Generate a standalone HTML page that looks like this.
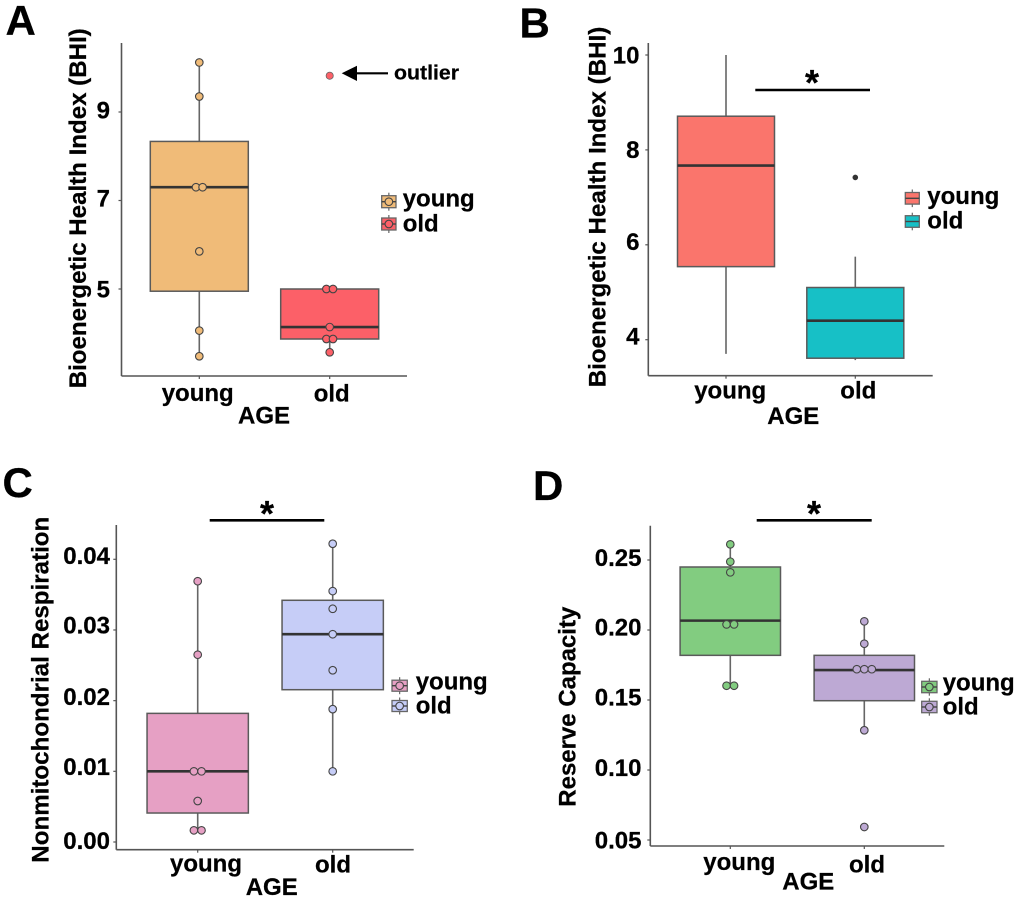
<!DOCTYPE html>
<html lang="en">
<head>
<meta charset="utf-8">
<title>Bioenergetic health boxplots</title>
<style>
html,body{margin:0;padding:0;background:#fff;}
svg{display:block;font-family:"Liberation Sans",Arial,sans-serif;font-weight:bold;filter:blur(0.35px);}
text{fill:#000;stroke:#000;stroke-width:0.25px;}
.panel-letter{font-size:42px;}
.big{font-size:24px;}
.star{font-size:36px;}
</style>
</head>
<body>
<svg id="figure" xmlns="http://www.w3.org/2000/svg" width="1020" height="901" viewBox="0 0 1020 901">
  <rect x="0" y="0" width="1020" height="901" fill="#fff"/>

  <g id="panel-a">
    <text class="panel-letter" x="5.5" y="35">A</text>
    <text class="big" transform="translate(86,388.3) rotate(-90)" textLength="360" lengthAdjust="spacingAndGlyphs">Bioenergetic Health Index (BHI)</text>
    <text class="big" x="264" y="423.3" text-anchor="middle">AGE</text>
    <line x1="388" y1="73.3" x2="355" y2="73.3" stroke="#000" stroke-width="2.2"/>
    <polygon points="341.7,73.3 357,65.7 357,81" fill="#000"/>
    <text x="394" y="79.3" font-size="20.5" textLength="65" lengthAdjust="spacingAndGlyphs">outlier</text>
  </g>

  <g id="panel-b">
    <text class="panel-letter" x="519.5" y="37.3">B</text>
    <text class="big" transform="translate(605.3,387.3) rotate(-90)" textLength="360.6" lengthAdjust="spacingAndGlyphs">Bioenergetic Health Index (BHI)</text>
    <text class="big" x="793.3" y="424" text-anchor="middle">AGE</text>
    <line x1="755.3" y1="90" x2="870" y2="90" stroke="#000" stroke-width="2.6"/>
    <text class="star" x="812" y="95" text-anchor="middle">*</text>
  </g>

  <g id="panel-c">
    <text class="panel-letter" x="2.5" y="497">C</text>
    <text class="big" transform="translate(48.7,862.7) rotate(-90)" textLength="346" lengthAdjust="spacingAndGlyphs">Nonmitochondrial Respiration</text>
    <text class="big" x="271.7" y="895" text-anchor="middle">AGE</text>
    <line x1="209.7" y1="520.3" x2="324.3" y2="520.3" stroke="#000" stroke-width="2.6"/>
    <text class="star" x="267" y="526" text-anchor="middle">*</text>
  </g>

  <g id="panel-d">
    <text class="panel-letter" x="533" y="500">D</text>
    <text class="big" transform="translate(575.7,806.7) rotate(-90)" textLength="200" lengthAdjust="spacingAndGlyphs">Reserve Capacity</text>
    <text class="big" x="808.3" y="889.3" text-anchor="middle">AGE</text>
    <line x1="756.7" y1="520.3" x2="871.7" y2="520.3" stroke="#000" stroke-width="2.6"/>
    <text class="star" x="814" y="526" text-anchor="middle">*</text>
  </g>
</svg>

<script>
const categories = ['young', 'old'];

/* Panel A data */
const panelATicks = [5, 7, 9];
const panelATickLabels = ['5', '7', '9'];
const panelAYoungBox = [4.95, 7.30, 8.335];
const panelAOldBox = [3.87, 4.14, 5.0];
const panelAYoungWhiskers = [3.48, 10.12];
const panelAOldWhiskers = [3.57, 5.0];
const panelAYoungPoints = [10.12, 9.35, 7.3, 7.3, 5.85, 4.06, 3.48];
const panelAOldPoints = [5.0, 5.0, 4.14, 3.87, 3.87, 3.57];
const panelAOldOutliers = [9.82];

/* Panel B data */
const panelBTicks = [4, 6, 8, 10];
const panelBTickLabels = ['4', '6', '8', '10'];
const panelBYoungBox = [5.54, 7.67, 8.71];
const panelBOldBox = [3.61, 4.40, 5.10];
const panelBYoungWhiskers = [3.70, 10.0];
const panelBOldWhiskers = [3.57, 5.75];
const panelBOldOutliers = [7.42];

/* Panel C data */
const panelCTicks = [0, 0.01, 0.02, 0.03, 0.04];
const panelCTickLabels = ['0.00', '0.01', '0.02', '0.03', '0.04'];
const panelCYoungBox = [0.0041, 0.01, 0.0182];
const panelCOldBox = [0.02155, 0.0294, 0.0342];
const panelCYoungWhiskers = [0.00165, 0.0369];
const panelCOldWhiskers = [0.01, 0.0422];
const panelCYoungPoints = [0.0369, 0.0265, 0.01, 0.01, 0.0058, 0.00165, 0.00165];
const panelCOldPoints = [0.0422, 0.0355, 0.033, 0.0294, 0.0243, 0.0188, 0.01];

/* Panel D data */
const panelDTicks = [0.05, 0.10, 0.15, 0.20, 0.25];
const panelDTickLabels = ['0.05', '0.10', '0.15', '0.20', '0.25'];
const panelDYoungBox = [0.1819, 0.2067, 0.245];
const panelDOldBox = [0.1495, 0.1714, 0.1819];
const panelDYoungWhiskers = [0.1602, 0.2612];
const panelDOldWhiskers = [0.1284, 0.2062];
const panelDYoungPoints = [0.2612, 0.2488, 0.2412, 0.204, 0.204, 0.1602, 0.1602];
const panelDOldPoints = [0.2062, 0.1902, 0.172, 0.172, 0.172, 0.1284, 0.0593];

const SVGNS = 'http://www.w3.org/2000/svg';

function node(tag, attrs, parent) {
  const el = document.createElementNS(SVGNS, tag);
  for (const k in attrs) el.setAttribute(k, attrs[k]);
  parent.appendChild(el);
  return el;
}

function linearScale(v0, p0, v1, p1) {
  return function (v) { return p0 + (v - v0) * (p1 - p0) / (v1 - v0); };
}

function drawPanel(cfg) {
  const root = document.getElementById(cfg.id);
  const y = linearScale(cfg.yCal[0], cfg.yCal[1], cfg.yCal[2], cfg.yCal[3]);
  const x = function (i) { return cfg.xStart + i * cfg.xStep; };
  const key = cfg.id;

  /* axes */
  const yAxis = node('line', { x1: cfg.left, y1: cfg.top, x2: cfg.left, y2: cfg.bottom, stroke: '#555', 'stroke-width': 1.6 }, root);
  
  
  const xAxis = node('line', { x1: cfg.left, y1: cfg.bottom, x2: cfg.right, y2: cfg.bottom, stroke: '#555', 'stroke-width': 1.6 }, root);
  
  

  /* y ticks */
  cfg.ticks.forEach(function (t, i) {
    const tick = node('line', { x1: cfg.left - 3, x2: cfg.left, y1: y(t), y2: y(t), stroke: '#555', 'stroke-width': 1.2 }, root);
    
    
    const label = node('text', { x: cfg.tickRight, y: y(t) + cfg.tickNudge[i], 'text-anchor': 'end', 'font-size': 24 }, root);
    label.textContent = cfg.tickLabels[i];
    
    
  });

  /* x ticks + labels */
  categories.forEach(function (c, i) {
    const tick = node('line', { x1: x(i), x2: x(i), y1: cfg.bottom, y2: cfg.bottom + 3, stroke: '#555', 'stroke-width': 1.2 }, root);
    
    
    const label = node('text', { x: cfg.xLabels[i][0], y: cfg.xLabels[i][1], 'text-anchor': 'middle', 'font-size': 24 }, root);
    label.textContent = c;
    
    
  });

  /* series */
  categories.forEach(function (c, i) {
    const s = cfg.series[i];
    const cx = x(i);
    const whisker = node('line', { x1: cx, x2: cx, y1: y(s.whiskers[0]), y2: y(s.whiskers[1]), stroke: '#666', 'stroke-width': 1.6 }, root);
    
    
    const box = node('rect', {
      x: cx - cfg.boxW / 2, width: cfg.boxW,
      y: y(s.box[2]), height: y(s.box[0]) - y(s.box[2]),
      fill: s.color, stroke: '#5a5a5a', 'stroke-width': 1.5
    }, root);
    
    
    const median = node('line', { x1: cx - cfg.boxW / 2, x2: cx + cfg.boxW / 2, y1: y(s.box[1]), y2: y(s.box[1]), stroke: '#333', 'stroke-width': 2.6 }, root);
    
    

    /* identical values sit side by side, centred on the category */
    const pts = s.points || [];
    pts.forEach(function (v, j) {
      const same = pts.filter(function (o) { return o === v; }).length;
      const rank = pts.slice(0, j).filter(function (o) { return o === v; }).length;
      const off = (rank - (same - 1) / 2) * cfg.dotStep;
      const dot = node('circle', { cx: cx + off, cy: y(v), r: 3.8, fill: s.color, stroke: '#444', 'stroke-width': 1.1 }, root);
      
      
    });

    (s.outliers || []).forEach(function (v) {
      const out = node('circle', {
        cx: cx, cy: y(v), r: cfg.outlierR,
        fill: cfg.outlierFill || s.color, stroke: cfg.outlierStroke, 'stroke-width': 0.8
      }, root);
      
      
    });

    /* legend */
    const L = cfg.legend;
    const ky = L.keyY[i];
    const kx = L.keyX + L.keyW / 2;
    const lw = node('line', { x1: kx, x2: kx, y1: ky - L.keyH / 2 - 3, y2: ky + L.keyH / 2 + 3, stroke: '#666', 'stroke-width': 1.2 }, root);
    
    
    const lk = node('rect', { x: L.keyX, y: ky - L.keyH / 2, width: L.keyW, height: L.keyH, fill: s.color, stroke: '#666', 'stroke-width': 1.3 }, root);
    
    
    const lm = node('line', { x1: L.keyX, x2: L.keyX + L.keyW, y1: ky, y2: ky, stroke: '#444', 'stroke-width': 1.4 }, root);
    
    
    if (L.dot) {
      const ld = node('circle', { cx: kx, cy: ky, r: 3.8, fill: s.color, stroke: '#444', 'stroke-width': 1.1 }, root);
      
      
    }
    const lt = node('text', { x: L.textX, y: L.textY[i], 'font-size': 24 }, root);
    lt.textContent = c;
    
    
  });
}

drawPanel({
  id: 'panel-a', left: 121.5, right: 407, top: 43, bottom: 376,
  yCal: [5, 289, 9, 112], xStart: 199.3, xStep: 130.4, boxW: 98,
  ticks: panelATicks, tickLabels: panelATickLabels, tickRight: 110, tickNudge: [8.7, 6.2, 6.3],
  xLabels: [[197.7, 401], [331.7, 401.7]], dotStep: 6.6,
  outlierR: 3.6, outlierStroke: '#666',
  series: [
    { color: '#F0BB78', box: panelAYoungBox, whiskers: panelAYoungWhiskers, points: panelAYoungPoints },
    { color: '#FC6068', box: panelAOldBox, whiskers: panelAOldWhiskers, points: panelAOldPoints, outliers: panelAOldOutliers }
  ],
  legend: { keyX: 381.7, keyW: 14.3, keyH: 12, keyY: [201.7, 224], dot: true, textX: 402.7, textY: [206.7, 231.7] }
});

drawPanel({
  id: 'panel-b', left: 648.3, right: 932.7, top: 43, bottom: 375.7,
  yCal: [4, 339.7, 10, 55], xStart: 726, xStep: 129.3, boxW: 97,
  ticks: panelBTicks, tickLabels: panelBTickLabels, tickRight: 639.5, tickNudge: [4.6, 5, 8.3, 8.3],
  xLabels: [[730.2, 398.3], [858.3, 398.3]], dotStep: 7,
  outlierR: 2.4, outlierFill: '#333', outlierStroke: '#333',
  series: [
    { color: '#FA756C', box: panelBYoungBox, whiskers: panelBYoungWhiskers },
    { color: '#17C0C6', box: panelBOldBox, whiskers: panelBOldWhiskers, outliers: panelBOldOutliers }
  ],
  legend: { keyX: 905.3, keyW: 14, keyH: 11.6, keyY: [198.3, 221.5], dot: false, textX: 927.3, textY: [204, 228.3] }
});

drawPanel({
  id: 'panel-c', left: 116.3, right: 413.7, top: 525, bottom: 849.7,
  yCal: [0, 842, 0.04, 559.3], xStart: 197.7, xStep: 135, boxW: 101.3,
  ticks: panelCTicks, tickLabels: panelCTickLabels, tickRight: 110, tickNudge: [7, 3.7, 4.3, 3.3, 4.7],
  xLabels: [[206, 871.7], [333, 872.7]], dotStep: 7.6,
  outlierR: 3.3, outlierStroke: '#444',
  series: [
    { color: '#E6A0C4', box: panelCYoungBox, whiskers: panelCYoungWhiskers, points: panelCYoungPoints },
    { color: '#C6CDF7', box: panelCOldBox, whiskers: panelCOldWhiskers, points: panelCOldPoints }
  ],
  legend: { keyX: 392, keyW: 15.3, keyH: 11, keyY: [685.7, 706], dot: true, textX: 415.7, textY: [689.3, 713.3] }
});

drawPanel({
  id: 'panel-d', left: 650.3, right: 944.3, top: 525.7, bottom: 846,
  yCal: [0.05, 840, 0.25, 560], xStart: 730.3, xStep: 134, boxW: 100.4,
  ticks: panelDTicks, tickLabels: panelDTickLabels, tickRight: 641.5, tickNudge: [8.3, 6, 5.7, 5.7, 6],
  xLabels: [[739.3, 870], [867, 872.3]], dotStep: 7.5,
  outlierR: 3.3, outlierStroke: '#444',
  series: [
    { color: '#82CC80', box: panelDYoungBox, whiskers: panelDYoungWhiskers, points: panelDYoungPoints },
    { color: '#BDA9D4', box: panelDOldBox, whiskers: panelDOldWhiskers, points: panelDOldPoints }
  ],
  legend: { keyX: 921.7, keyW: 15.3, keyH: 11.4, keyY: [687, 707], dot: true, textX: 942.7, textY: [690.7, 714.3] }
});
</script>
</body>
</html>
